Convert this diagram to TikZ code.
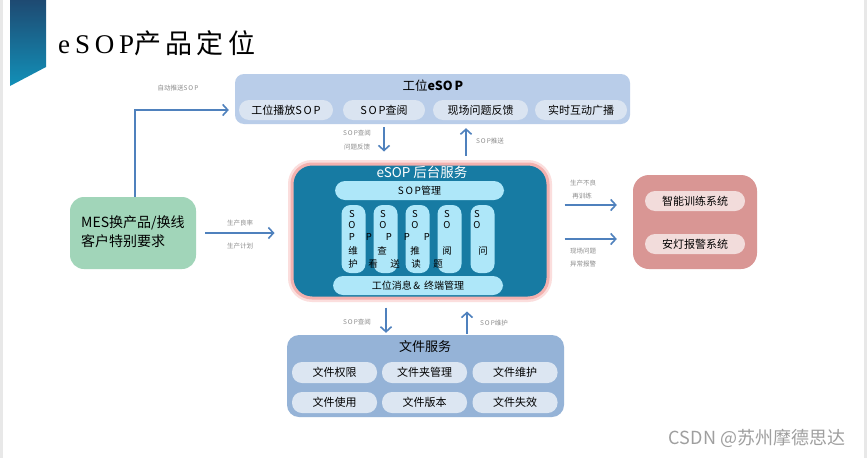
\documentclass[tikz,border=0pt]{standalone}
\usepackage{fontspec}
\setmainfont{Noto Sans CJK SC}
\newfontfamily\titlelat[LetterSpace=18]{Liberation Serif}
\newfontfamily\titlecjk[LetterSpace=16]{Noto Sans CJK SC}
\usetikzlibrary{arrows.meta}
\definecolor{topfill}{HTML}{B9CDE9}
\definecolor{toppill}{HTML}{DAE4F1}
\definecolor{ctrfill}{HTML}{177BA3}
\definecolor{ctrpill}{HTML}{AEE7F9}
\definecolor{glowA}{HTML}{F3B1AF}
\definecolor{glowB}{HTML}{FBDEDD}
\definecolor{rosefill}{HTML}{D99694}
\definecolor{rosepill}{HTML}{F2DCDB}
\definecolor{mint}{HTML}{A1D5B9}
\definecolor{filefill}{HTML}{95B3D7}
\definecolor{filepill}{HTML}{DCE6F2}
\definecolor{arrowc}{HTML}{4F81BD}
\definecolor{lblc}{HTML}{8C8C8C}
\definecolor{navy}{HTML}{1E4A72}
\definecolor{tealtop}{HTML}{1290B8}
\tikzset{
  panel/.style={fill=#1, draw=none, inner sep=0pt},
  pill/.style={fill=#1, draw=none, rounded corners=10pt, inner sep=0pt, font=\fontsize{11}{12}\selectfont},
  arr/.style={draw=arrowc, line width=2pt, -{Straight Barb[length=5pt,width=11pt,line width=1.6pt]}},
  lbl/.style={text=lblc, font=\fontsize{6.5}{7}\selectfont, inner sep=0pt},
  colch/.style={font=\fontsize{9.5}{9.5}\selectfont, inner sep=0pt},
}
\begin{document}
\begin{tikzpicture}[x=1pt,y=-1pt]
\useasboundingbox (0,0) rectangle (867,458);
\fill[white] (0,0) rectangle (867,458);
\fill[gray!18] (0,0) rectangle (3,458);
\fill[gray!18] (864,0) rectangle (867,458);
% decorative banner
\shade[top color=navy, bottom color=tealtop] (10,0) -- (46,0) -- (46,67) -- (10,86) -- cycle;
% title
\node[anchor=west, inner sep=0pt] (title) at (58,43) {\fontsize{27}{27}\selectfont\titlelat eSOP\titlecjk 产品定位};

% top box
\node[panel=topfill, rounded corners=9pt, minimum width=395pt, minimum height=50pt] (top) at (432.5,99) {};
\node[inner sep=0pt, font=\fontsize{12.5}{13}\selectfont] (toptitle) at (433,86) {工位\textbf{eSO\,P}};
\node[pill=toppill, minimum width=94pt, minimum height=20pt] (t1) at (286,110) {工位播放S\,O\,P};
\node[pill=toppill, minimum width=82pt, minimum height=20pt] (t2) at (384,110) {S\,O\,P查阅};
\node[pill=toppill, minimum width=95pt, minimum height=20pt] (t3) at (480.5,110) {现场问题反馈};
\node[pill=toppill, minimum width=92pt, minimum height=20pt] (t4) at (581,110) {实时互动广播};

% center box
\node[panel=ctrfill, draw=glowA, line width=3pt, rounded corners=20pt,
      preaction={draw=glowB, line width=8pt, rounded corners=20pt},
      minimum width=256pt, minimum height=134pt] (ctr) at (420,231) {};
\node[text=white, inner sep=0pt, font=\fontsize{13.5}{14}\selectfont] (ctrtitle) at (422,172) {eSOP 后台服务};
\node[pill=ctrpill, minimum width=169pt, minimum height=19pt, font=\fontsize{10}{10}\selectfont] (mgr) at (419.5,190.5) {S\,O\,P管理};
\foreach \n/\cx in {c1/353.5, c2/385.5, c3/417.5, c4/449.5, c5/482.5}
  \node[pill=ctrpill, rounded corners=9pt, minimum width=24pt, minimum height=68pt] (\n) at (\cx,239) {};
\node[pill=ctrpill, minimum width=170pt, minimum height=19pt, font=\fontsize{10}{10}\selectfont] (term) at (418,285.5) {工位消息\,\&\, 终端管理};
% column characters
\foreach \cx/\ch [count=\i] in {352/S,383/S,415/S,447/S,477/S}
  \node[colch] (rs\i) at (\cx,214) {\ch};
\foreach \cx/\ch [count=\i] in {352/O,383/O,415/O,447/O,477/O}
  \node[colch] (ro\i) at (\cx,225.5) {\ch};
\foreach \cx/\ch [count=\i] in {352/P,369/P,389/P,407/P,427/P}
  \node[colch] (rp\i) at (\cx,237) {\ch};
\foreach \cx/\ch [count=\i] in {353/维,382/查,415/推,447/阅,483/问}
  \node[colch] (rc\i) at (\cx,251) {\ch};
\foreach \cx/\ch [count=\i] in {353/护,373/看,395/送,416/读,438/题}
  \node[colch] (rd\i) at (\cx,264) {\ch};

% right box
\node[panel=rosefill, rounded corners=16pt, minimum width=124pt, minimum height=94pt] (rbox) at (695,222) {};
\node[pill=rosepill, minimum width=100pt, minimum height=20pt] (r1) at (695,201) {智能训练系统};
\node[pill=rosepill, minimum width=100pt, minimum height=20pt] (r2) at (695,244) {安灯报警系统};

% left box
\node[panel=mint, rounded corners=14pt, minimum width=126pt, minimum height=72pt] (mes) at (133,233) {};
\node[anchor=west, inner sep=0pt, font=\fontsize{14}{14}\selectfont] (mes1) at (81,223) {MES换产品/换线};
\node[anchor=west, inner sep=0pt, font=\fontsize{14}{14}\selectfont] (mes2) at (81,241) {客户特别要求};

% bottom box
\node[panel=filefill, rounded corners=12pt, minimum width=277pt, minimum height=82pt] (file) at (425.5,376) {};
\node[inner sep=0pt, font=\fontsize{13}{13}\selectfont] (filetitle) at (425,347) {文件服务};
\node[pill=filepill, minimum width=85pt, minimum height=21pt] (f1) at (334.5,372.5) {文件权限};
\node[pill=filepill, minimum width=85pt, minimum height=21pt] (f2) at (424.5,372.5) {文件夹管理};
\node[pill=filepill, minimum width=85pt, minimum height=21pt] (f3) at (515,372.5) {文件维护};
\node[pill=filepill, minimum width=85pt, minimum height=21pt] (f4) at (334.5,402.5) {文件使用};
\node[pill=filepill, minimum width=85pt, minimum height=21pt] (f5) at (424.5,402.5) {文件版本};
\node[pill=filepill, minimum width=85pt, minimum height=21pt] (f6) at (515,402.5) {文件失效};

% connector columns
\coordinate (xa) at (384,0);
\coordinate (xb) at (466,0);
\coordinate (xc) at (386,0);
\coordinate (xd) at (467,0);
\coordinate (ya) at (0,205);
\coordinate (yb) at (0,239);

% connectors
\draw[arr] ([yshift=-3pt]top.south -| xa) -- ([yshift=11pt]ctr.north -| xa);
\draw[arr] ([yshift=7pt]ctr.north -| xb) -- ([yshift=-4pt]top.south -| xb);
\draw[arr] ([xshift=9pt]mes.east) -- ([xshift=-16pt]ctr.west |- mes.east);
\draw[arr] (mes.north -| 135,0) |- ([xshift=-6pt]top.west |- t1.center);
\draw[arr] ([xshift=15pt]ctr.east |- ya) -- ([xshift=-16pt]rbox.west |- ya);
\draw[arr] ([xshift=15pt]ctr.east |- yb) -- ([xshift=-16pt]rbox.west |- yb);
\draw[arr] ([yshift=-8pt]ctr.south -| xc) -- ([yshift=2pt]file.north -| xc);
\draw[arr] ([yshift=1pt]file.north -| xd) -- ([yshift=-12pt]ctr.south -| xd);

% labels
\node[lbl] (l1) at (178,88) {自动推送S\,O\,P};
\node[lbl] (l2) at (357,133) {S\,O\,P查阅};
\node[lbl] (l3) at (357,147) {问题反馈};
\node[lbl] (l4) at (490,141) {S\,O\,P推送};
\node[lbl] (l5) at (240,223) {生产良率};
\node[lbl] (l6) at (240,246) {生产计划};
\node[lbl] (l7) at (583,183) {生产不良};
\node[lbl] (l8) at (582,196) {再训练};
\node[lbl] (l9) at (583,251) {现场问题};
\node[lbl] (l10) at (583,264) {异常报警};
\node[lbl] (l11) at (357,322) {S\,O\,P查阅};
\node[lbl] (l12) at (494,323) {S\,O\,P维护};

% watermark
\node[text=gray!75, inner sep=0pt, font=\fontsize{18}{18}\selectfont] (wm) at (757,438) {CSDN @苏州摩德思达};
\end{tikzpicture}
\end{document}
